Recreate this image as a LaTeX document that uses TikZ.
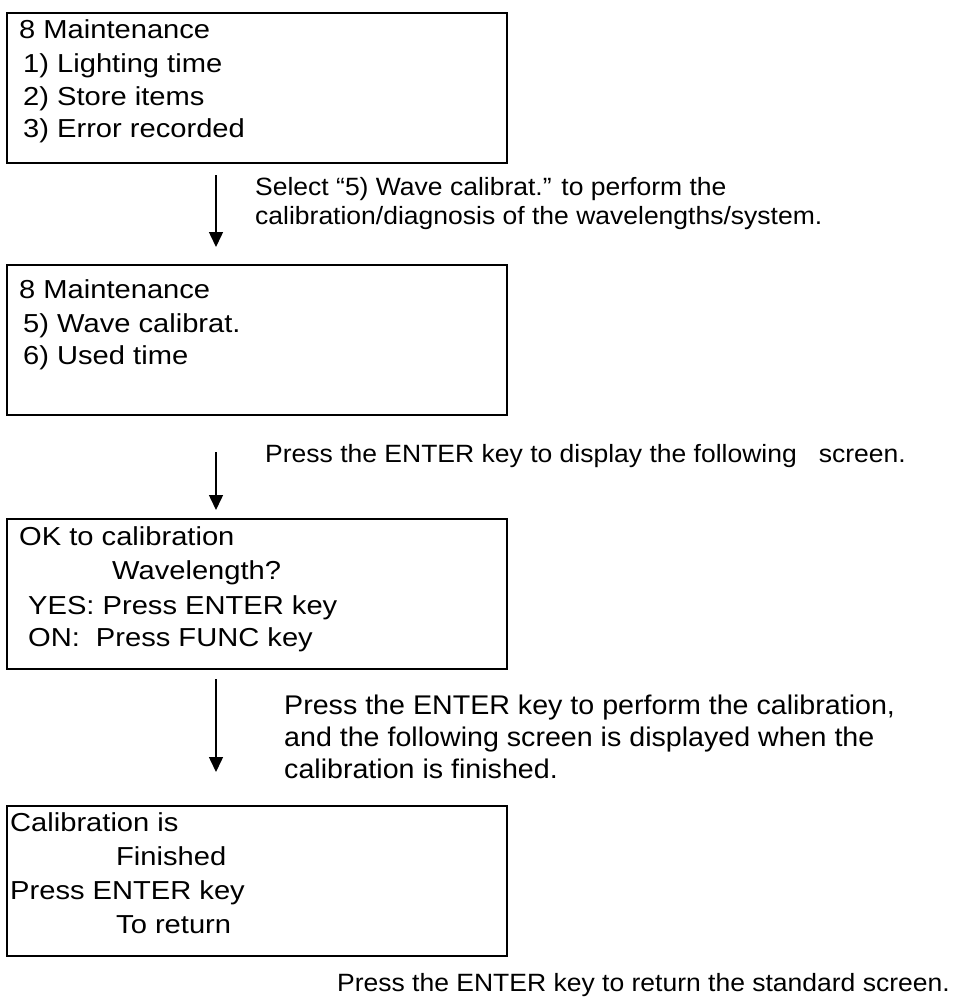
\documentclass[tikz,border=0pt]{standalone}
\usepackage{fontspec}
\setmainfont{Liberation Sans}
\newfontfamily\boxfam[FakeStretch=1.12]{Liberation Sans}
\newfontfamily\notefam[FakeStretch=1.06]{Liberation Sans}
\usetikzlibrary{arrows.meta}
\newcommand\boxfont{\boxfam\fontsize{26}{33}\selectfont}
\newcommand\notefont{\notefam\fontsize{25}{27}\selectfont}
\newcommand\notefontb{\notefam\fontsize{27}{32}\selectfont}
\begin{document}
\begin{tikzpicture}[x=1pt,y=-1pt,
  screen/.style={draw, line width=2.4pt, minimum width=500pt, minimum height=150pt, anchor=north west, inner sep=0pt},
  scr/.style={anchor=base west, inner sep=0pt, font=\boxfont},
  note/.style={anchor=base west, inner sep=0pt, font=\notefont},
  noteb/.style={anchor=base west, inner sep=0pt, font=\notefontb},
  flow/.style={-{Triangle[length=15pt,width=14pt]}, line width=1.5pt}]
\fill[white] (0,0) rectangle (954,1001);
\useasboundingbox (0,0) rectangle (954,1001);
% boxes
\node[screen] (box1) at (6,12) {};
\node[screen] (box2) at (6,264) {};
\node[screen] (box3) at (6,518) {};
\node[screen] (box4) at (6,805) {};
% box 1 text
\node[scr] (b1a) at (19,38) {8 Maintenance};
\node[scr] (b1b) at (19,72) {\hspace{4pt}1) Lighting time};
\node[scr] (b1c) at (19,105) {\hspace{4pt}2) Store items};
\node[scr] (b1d) at (19,137) {\hspace{4pt}3) Error recorded};
% box 2 text
\node[scr] (b2a) at (19,298) {8 Maintenance};
\node[scr] (b2b) at (19,332) {\hspace{4pt}5) Wave calibrat.};
\node[scr] (b2c) at (19,364) {\hspace{4pt}6) Used time};
% box 3 text
\node[scr] (b3a) at (19,545) {OK to calibration};
\node[scr] (b3b) at (112,579) {Wavelength?};
\node[scr] (b3c) at (19,614) {\hspace{9pt}YES: Press ENTER key};
\node[scr] (b3d) at (19,646) {\hspace{9pt}ON:\hspace{16pt}Press FUNC key};
% box 4 text
\node[scr] (b4a) at (10,831) {Calibration is};
\node[scr] (b4b) at (116,865) {Finished};
\node[scr] (b4c) at (10,899) {Press ENTER key};
\node[scr] (b4d) at (116,933) {To return};
% arrows
\coordinate (a1s) at (216,175); \coordinate (a1e) at (216,247);
\coordinate (a2s) at (216,452); \coordinate (a2e) at (216,510);
\coordinate (a3s) at (216,679); \coordinate (a3e) at (216,772);
\draw[flow] (a1s) -- (a1e);
\draw[flow] (a2s) -- (a2e);
\draw[flow] (a3s) -- (a3e);
% notes
\node[note] (n1a) at (255,195) {Select “5) Wave calibrat.” to perform the};
\node[note] (n1b) at (255,224) {calibration/diagnosis of the wavelengths/system.};
\node[note] (n2) at (265,462) {Press the ENTER key to display the following\hspace{22pt}screen.};
\node[noteb] (n3a) at (284,714) {Press the ENTER key to perform the calibration,};
\node[noteb] (n3b) at (284,746) {and the following screen is displayed when the};
\node[noteb] (n3c) at (284,778) {calibration is finished.};
\node[note, anchor=base east] (n4) at (950,991) {Press the ENTER key to return the standard screen.};
\end{tikzpicture}
\end{document}
